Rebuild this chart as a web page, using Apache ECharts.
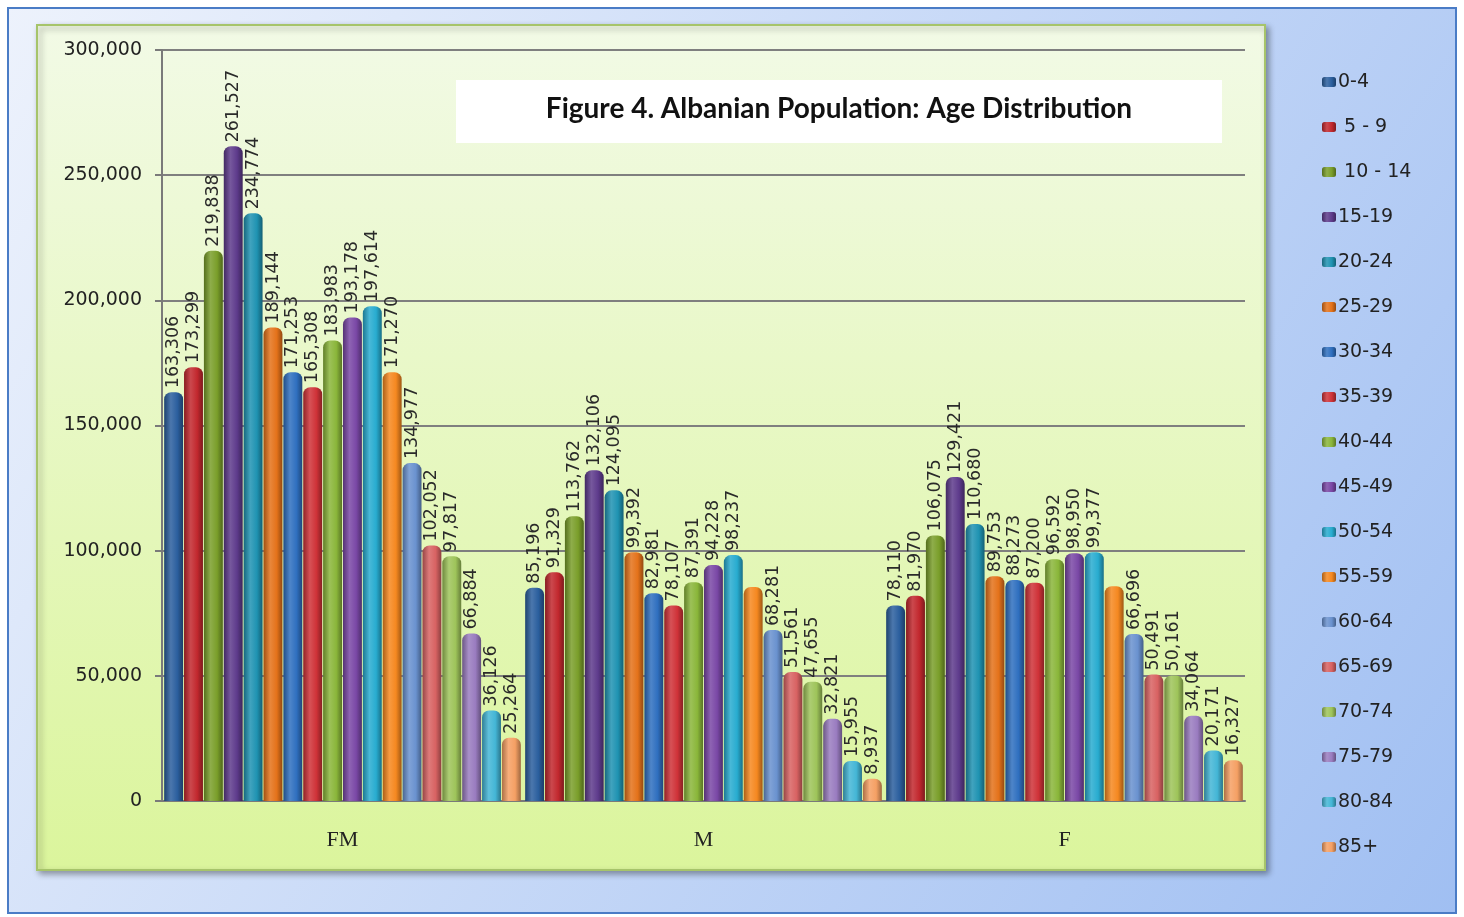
<!DOCTYPE html>
<html><head><meta charset="utf-8">
<script src="https://cdn.jsdelivr.net/npm/echarts@6/dist/echarts.min.js"></script>
<style>html,body{margin:0;padding:0;background:#fff}#c{width:1464px;height:917px}</style>
</head><body><div id="c"></div>
<script>
const categories = ['FM', 'M', 'F'];
const ageGroups = ['0-4', ' 5 - 9', ' 10 - 14', '15-19', '20-24', '25-29', '30-34', '35-39', '40-44', '45-49', '50-54', '55-59', '60-64', '65-69', '70-74', '75-79', '80-84', '85+'];
const fmValues = [163306, 173299, 219838, 261527, 234774, 189144, 171253, 165308, 183983, 193178, 197614, 171270, 134977, 102052, 97817, 66884, 36126, 25264];
const mValues = [85196, 91329, 113762, 132106, 124095, 99392, 82981, 78107, 87391, 94228, 98237, 85500, 68281, 51561, 47655, 32821, 15955, 8937];
const fValues = [78110, 81970, 106075, 129421, 110680, 89753, 88273, 87200, 96592, 98950, 99377, 85770, 66696, 50491, 50161, 34064, 20171, 16327];
// labels not printed in the reference (55-59 for M and F)
const hiddenLabels = [[11, 1], [11, 2]];
const yTicks = [0, 50000, 100000, 150000, 200000, 250000, 300000];
const colors = ['#2b5f9e', '#c2282e', '#7a9e2a', '#5e3b8c', '#1f93b2', '#e4721a', '#2f6fbf', '#cf3238', '#8ab63a', '#7a48a6', '#28acd0', '#f58820', '#6a92cf', '#d86262', '#9ec45a', '#9a7cc0', '#44b6d6', '#f5a064'];

function shade(hex, f) {
  const n = parseInt(hex.slice(1), 16);
  let r = n >> 16, g = (n >> 8) & 255, b = n & 255;
  if (f < 0) { r = r * (1 + f); g = g * (1 + f); b = b * (1 + f); }
  else { r = r + (255 - r) * f; g = g + (255 - g) * f; b = b + (255 - b) * f; }
  return 'rgb(' + Math.round(r) + ',' + Math.round(g) + ',' + Math.round(b) + ')';
}
const groupData = [fmValues, mValues, fValues];
const fmt = v => v.toLocaleString('en-US');

const series = ageGroups.map((name, i) => ({
  name: name,
  type: 'bar',
  barGap: '5%',
  barCategoryGap: '1.2%',
  itemStyle: {
    borderRadius: [7, 7, 0, 0],
    color: new echarts.graphic.LinearGradient(0, 0, 1, 0, [
      { offset: 0, color: shade(colors[i], -0.3) },
      { offset: 0.35, color: shade(colors[i], 0.15) },
      { offset: 0.7, color: colors[i] },
      { offset: 1, color: shade(colors[i], -0.35) }
    ])
  },
  label: {
    show: true, position: 'top', rotate: 90, align: 'left', verticalAlign: 'middle',
    distance: 4, fontFamily: 'DejaVu Sans', fontSize: 17.5, color: '#2a2a2a',
    formatter: p => fmt(p.value)
  },
  data: categories.map((c, j) => {
    const hide = hiddenLabels.some(h => h[0] === i && h[1] === j);
    return hide ? { value: groupData[j][i], label: { show: false } } : groupData[j][i];
  })
}));

const chart = echarts.init(document.getElementById('c'));
chart.setOption({
  animation: false,
  graphic: [
    { type: 'rect', z: -20, shape: { x: 8, y: 8, width: 1448, height: 905 },
      style: { fill: new echarts.graphic.LinearGradient(0, 0, 1, 1, [{ offset: 0, color: '#edf2fc' }, { offset: 1, color: '#a0bff2' }]), stroke: '#4a7cc6', lineWidth: 2 } },
    { type: 'rect', z: -19, shape: { x: 37, y: 25, width: 1228, height: 845 },
      style: { fill: new echarts.graphic.LinearGradient(0, 0, 0, 1, [{ offset: 0, color: '#f2fae6' }, { offset: 1, color: '#dbf59c' }]), stroke: '#a6c46a', lineWidth: 2,
        shadowBlur: 6, shadowColor: 'rgba(0,0,0,0.35)', shadowOffsetX: 3, shadowOffsetY: 3 } },
    { type: 'rect', z: 100, shape: { x: 456, y: 80, width: 766, height: 63 }, style: { fill: '#ffffff' } },
    { type: 'text', z: 101, x: 839, y: 109,
      style: { text: 'Figure 4. Albanian Population: Age Distribution', fontFamily: 'Lato', fontWeight: 'bold', fontSize: 28, fill: '#111', align: 'center', verticalAlign: 'middle' } }
  ],
  legend: {
    orient: 'vertical', left: 1317, top: 66, itemWidth: 14, itemHeight: 10, itemGap: 23,
    textStyle: { fontFamily: 'DejaVu Sans', fontSize: 19, color: '#222', lineHeight: 22, padding: [0, 0, 0, -3] },
    data: ageGroups
  },
  grid: { left: 162, right: 219, top: 50, bottom: 116 },
  xAxis: {
    type: 'category', data: categories,
    axisLine: { lineStyle: { color: '#7a7a7a', width: 2 } },
    axisTick: { length: 65, lineStyle: { color: '#7a7a7a', width: 2 } },
    axisLabel: { margin: 28, fontFamily: 'Liberation Serif', fontSize: 22, color: '#222' }
  },
  yAxis: {
    type: 'value', min: yTicks[0], max: yTicks[yTicks.length - 1], interval: 50000,
    axisLine: { show: true, lineStyle: { color: '#7a7a7a', width: 2 } },
    axisTick: { show: true, length: 7, lineStyle: { color: '#7a7a7a', width: 2 } },
    splitLine: { lineStyle: { color: '#7f7f7f', width: 2 } },
    axisLabel: { margin: 20, fontFamily: 'DejaVu Sans', fontSize: 19, color: '#222', formatter: v => fmt(v) }
  },
  series: series
});
</script></body></html>
